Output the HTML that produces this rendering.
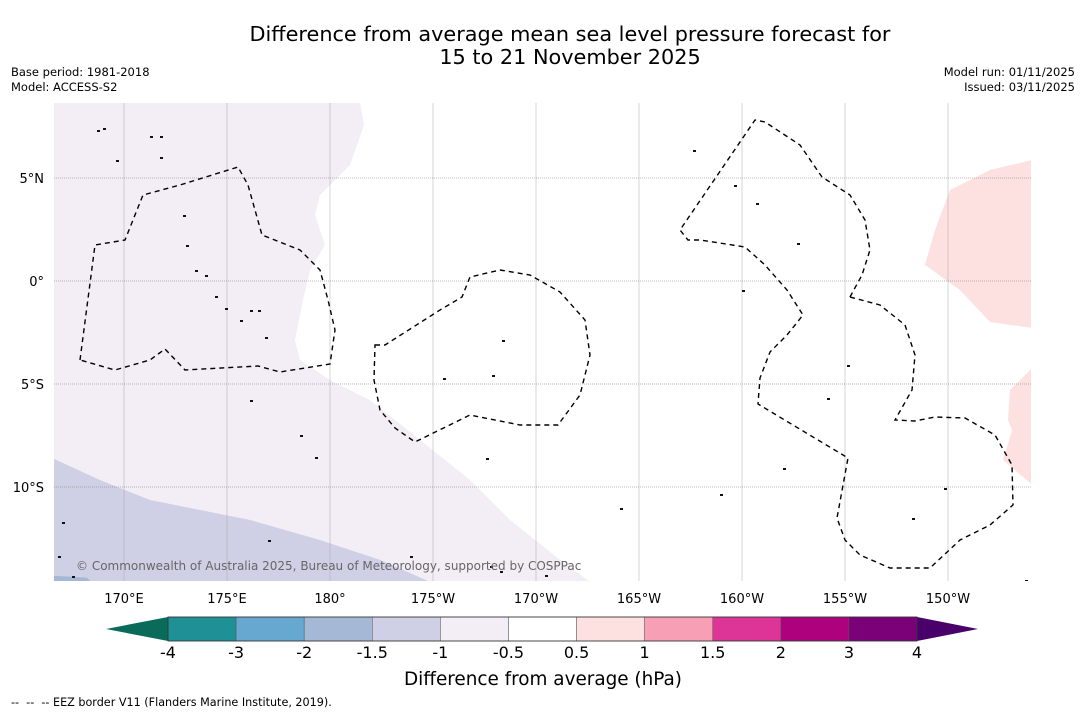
<!DOCTYPE html>
<html><head><meta charset="utf-8"><style>
body{margin:0;background:#fff;width:1085px;height:713px;overflow:hidden;font-family:"Liberation Sans","DejaVu Sans",sans-serif}
svg{display:block}
</style></head><body>
<svg id="c" width="1085" height="713" font-family="DejaVu Sans, Liberation Sans, sans-serif">
<text x="570" y="41" font-size="20.8" text-anchor="middle">Difference from average mean sea level pressure forecast for</text>
<text x="570" y="64" font-size="20.8" text-anchor="middle">15 to 21 November 2025</text>
<text x="11" y="76" font-size="11.5">Base period: 1981-2018</text>
<text x="11" y="91" font-size="11.5">Model: ACCESS-S2</text>
<text x="1075" y="76" font-size="11.5" text-anchor="end">Model run: 01/11/2025</text>
<text x="1075" y="91" font-size="11.5" text-anchor="end">Issued: 03/11/2025</text>
<defs><clipPath id="mc"><rect x="54" y="103" width="977" height="478"/></clipPath></defs>
<g id="map" clip-path="url(#mc)"></g>
<g id="ax"></g>
<g id="cb"></g>
<text x="543" y="685" font-size="18.4" text-anchor="middle">Difference from average (hPa)</text>
<text x="11" y="706" font-size="11.2" xml:space="preserve">--  --  -- EEZ border V11 (Flanders Marine Institute, 2019).</text>
</svg>
<script>
const NS="http://www.w3.org/2000/svg";
const lonTicks=[170,175,180,185,190,195,200,205,210];
const lonLabels=["170°E","175°E","180°","175°W","170°W","165°W","160°W","155°W","150°W"];
const latTicks=[5,0,-5,-10];
const latLabels=["5°N","0°","5°S","10°S"];
const levels=["-4","-3","-2","-1.5","-1","-0.5","0.5","1","1.5","2","3","4"];
const colors=["#1f9196","#66a8d0","#a5b8d6","#cfd0e6","#f3edf6","#ffffff","#fde0e0","#f7a0b5","#dc3597","#ae017e","#7a0177"];
const lavender=[[181.46,8.64],[181.65,7.57],[180.97,5.63],[179.51,4.17],[179.27,3.2],[179.76,1.75],[179.03,0.53],[178.69,-0.92],[178.3,-2.86],[178.54,-3.83],[180,-4.81],[181.94,-5.78],[184.37,-7.72],[186.8,-9.66],[188.74,-11.6],[191.17,-13.54],[192.62,-14.6],[166.5,-14.6],[166.5,8.7]];
const blueArea=[[166.5,-8.59],[168.83,-9.66],[171.26,-10.63],[176.12,-11.6],[179.51,-12.57],[182.43,-13.54],[184.85,-14.6],[166.5,-14.6]];
const pink1=[[214.1,5.87],[212.04,5.39],[210.1,4.42],[209.37,2.48],[208.88,0.78],[210.58,-0.44],[212.04,-1.99],[214.1,-2.28]];
const pink2=[[214.1,-4.22],[213.01,-5.29],[212.91,-6.75],[213.11,-7.23],[212.67,-8.69],[214.1,-9.9]];
const X=l=>124+(l-170)*20.6, Y=t=>281-t*20.6;
function el(tag,a,p){const e=document.createElementNS(NS,tag);for(const k in a)e.setAttribute(k,a[k]);p.appendChild(e);return e;}
const map=document.getElementById('map'),ax=document.getElementById('ax'),cb=document.getElementById('cb');
function poly(arr,fill,name){const p=el('polygon',{points:arr.map(d=>X(d[0])+','+Y(d[1])).join(' '),fill:fill},map);

}
poly(lavender,'#f3edf6','anomaly-minus-0.5-region');
poly(blueArea,'#cfd0e6','anomaly-minus-1-region');
poly([[166.5,-14.3],[168.2,-14.4],[168.4,-14.6],[166.5,-14.6]],'#a5b8d6','anomaly-minus-1.5-region');
poly(pink1,'#fde0e0','anomaly-plus-0.5-region-north');
poly(pink2,'#fde0e0','anomaly-plus-0.5-region-south');
lonTicks.forEach((l,i)=>{const g=el('line',{x1:X(l),x2:X(l),y1:103,y2:581,stroke:'#aaa','stroke-width':0.5},map);


const t=el('text',{x:X(l),y:603,'font-size':13,'text-anchor':'middle'},ax);t.textContent=lonLabels[i];

});
latTicks.forEach((l,i)=>{const g=el('line',{x1:54,x2:1031,y1:Y(l),y2:Y(l),stroke:'#777','stroke-width':0.6,'stroke-dasharray':'1,1'},map);


const t=el('text',{x:44,y:Y(l)+5,'font-size':13,'text-anchor':'end'},ax);t.textContent=latLabels[i];

});
const eez=["M80,360 L95,245 L125,240 L143,195 L180,185 L238,167 L248,185 L262,235 L300,250 L320,270 L328,300 L335,330 L330,364 L280,372 L258,366 L185,370 L165,349 L150,360 L115,370 Z",
"M375,345 L385,345 L440,310 L462,297 L470,277 L500,270 L530,275 L560,292 L585,320 L590,355 L580,395 L558,425 L520,425 L470,415 L415,442 L395,428 L380,410 L374,380 Z",
"M850,297 L862,275 L870,250 L865,220 L850,195 L822,177 L800,145 L765,122 L755,120 L680,230 L688,240 L700,240 L745,247 L765,265 L787,290 L803,315 L787,335 L770,352 L760,378 L758,404 L848,458 L837,518 L845,540 L860,555 L890,568 L930,568 L960,540 L990,525 L1013,505 L1012,465 L995,435 L965,418 L935,417 L915,421 L895,420 L912,390 L915,355 L905,325 L880,305 Z"];
eez.forEach(d=>{const p=el('path',{d:d,fill:'none',stroke:'#000','stroke-width':1.4,'stroke-dasharray':'5,4'},map);

});
const isl=[[97,130],[103,128],[150,136],[160,136],[160,157],[116,160],[183,215],[186,245],[195,270],[205,275],[215,296],[225,308],[240,320],[250,310],[258,310],[265,337],[250,400],[300,435],[315,457],[502,340],[492,375],[443,378],[486,458],[620,508],[720,494],[756,203],[797,243],[783,468],[944,488],[912,518],[62,522],[268,540],[410,556],[490,566],[500,571],[545,575],[1025,580],[693,150],[734,185],[742,290],[827,398],[847,365],[58,556],[72,576]];
isl.forEach(d=>{const r=el('rect',{x:d[0],y:d[1],width:3,height:2,fill:'#111'},map);

});
const cp=el('text',{x:76,y:570,'font-size':12,fill:'#666'},map);cp.textContent="© Commonwealth of Australia 2025, Bureau of Meteorology, supported by COSPPac";


const x0=168,w=(917-168)/colors.length,y0=617,h=24;
const la=el('polygon',{points:`${x0},${y0} 106,${y0+h/2} ${x0},${y0+h}`,fill:'#0a6b5a'},cb);


const ra=el('polygon',{points:`917,${y0} 978,${y0+h/2} 917,${y0+h}`,fill:'#49006a'},cb);


colors.forEach((c,i)=>{const r=el('rect',{x:x0+i*w,y:y0,width:w,height:h,fill:c,stroke:'#555','stroke-width':0.5},cb);

});
el('rect',{x:x0,y:y0,width:917-x0,height:h,fill:'none',stroke:'#333','stroke-width':0.8},cb);
levels.forEach((v,i)=>{const t=el('text',{x:x0+i*w,y:658,'font-size':16,'text-anchor':'middle'},cb);t.textContent=v;

});
</script>
</body></html>
